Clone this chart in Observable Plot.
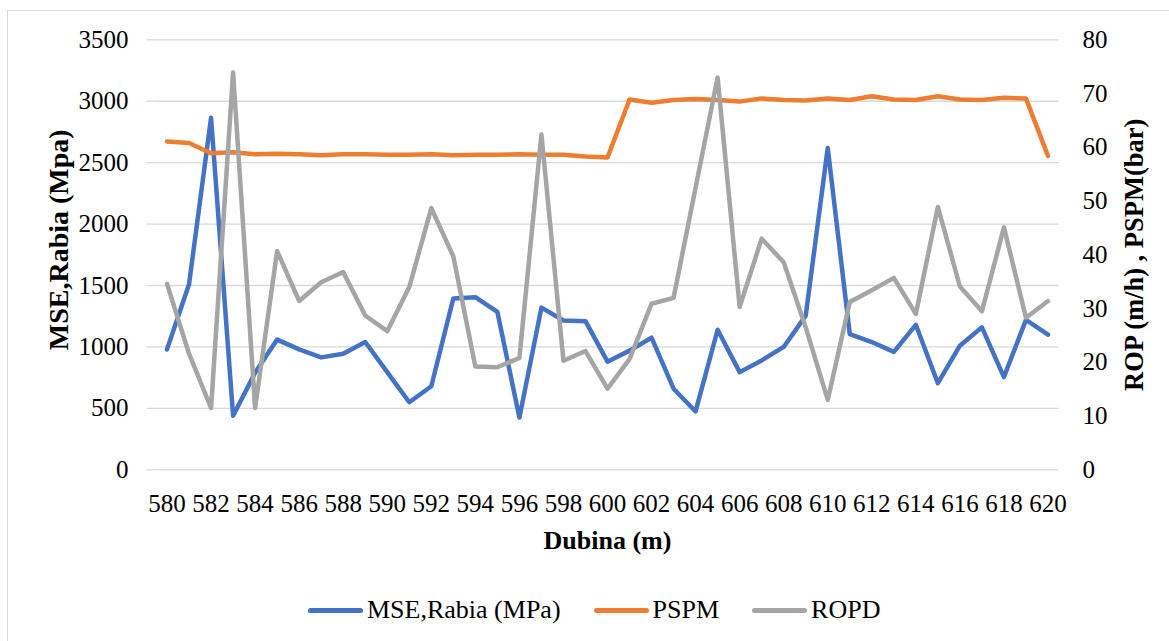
<!DOCTYPE html>
<html><head><meta charset="utf-8">
<script src="https://cdn.jsdelivr.net/npm/d3@7"></script>
<script src="https://cdn.jsdelivr.net/npm/@observablehq/plot@0.6"></script>
<style>
html,body{margin:0;padding:0;background:#fff;width:1169px;height:641px;overflow:hidden;position:relative;}
#frame{position:absolute;left:7px;top:10px;width:1180px;height:660px;border:1px solid #d9d9d9;box-sizing:border-box;}
#chart{position:absolute;left:0;top:0;}
#chart svg, #chart svg text{font-family:"Liberation Serif","Times New Roman",Times,"DejaVu Serif",serif !important;}
#legend{position:absolute;left:308px;top:592px;height:36px;display:flex;align-items:center;font-family:"Liberation Serif","Times New Roman",Times,"DejaVu Serif",serif;font-size:26px;color:#000;white-space:nowrap;}
.item{display:flex;align-items:center;margin-right:33px;}
.swatch{width:55px;height:5px;border-radius:3px;margin-right:4px;}
</style></head><body>
<div id="frame"></div><div id="chart"></div><div id="legend"></div>
<script>
const depth = [580,581,582,583,584,585,586,587,588,589,590,591,592,593,594,595,596,597,598,599,600,601,602,603,604,605,606,607,608,609,610,611,612,613,614,615,616,617,618,619,620];
const mse = [980,1510,2865,440,790,1060,980,915,945,1040,795,550,680,1395,1405,1285,425,1320,1215,1210,880,970,1075,660,475,1140,795,890,1000,1255,2620,1105,1040,960,1180,705,1010,1160,755,1220,1100];
const pspm = [61.1,60.8,58.9,59.1,58.7,58.8,58.7,58.5,58.7,58.7,58.6,58.6,58.7,58.5,58.6,58.6,58.7,58.6,58.6,58.3,58.1,68.9,68.3,68.8,69.0,68.8,68.5,69.1,68.8,68.7,69.1,68.8,69.5,68.9,68.8,69.5,68.9,68.8,69.2,69.1,58.4];
const ropd = [34.6,21.6,11.5,73.9,11.5,40.7,31.4,34.9,36.8,28.7,25.8,34.0,48.7,39.7,19.2,19.1,20.8,62.4,20.3,22.1,15.1,20.6,30.9,32.0,52.5,73.0,30.3,43.0,38.6,26.5,13.0,31.2,33.4,35.7,29.0,48.9,34.1,29.5,45.1,28.3,31.4];
const leftTicks = [0,500,1000,1500,2000,2500,3000,3500];
const rightTicks = [0,10,20,30,40,50,60,70,80];
const xTicks = [580,582,584,586,588,590,592,594,596,598,600,602,604,606,608,610,612,614,616,618,620];
const seriesNames = ["MSE,Rabia (MPa)","PSPM","ROPD"];
const colors = ["#4472C4","#ED7D31","#A5A5A5"];
const xTitle = "Dubina (m)";
const yLeftTitle = "MSE,Rabia (Mpa)";
const yRightTitle = "ROP (m/h) , PSPM(bar)";

const FONT = "'Liberation Serif','Times New Roman',Times,'DejaVu Serif',serif";
const k = 3500 / 80; // secondary axis mapped onto primary scale
const rows = depth.map((d, i) => ({depth: d, mse: mse[i], pspm: pspm[i], ropd: ropd[i]}));
const lineOpts = {strokeWidth: 4.5, strokeLinejoin: "round", strokeLinecap: "round"};

const chart = Plot.plot({
  width: 1169, height: 560,
  marginLeft: 155.5, marginRight: 110.5, marginTop: 39.3, marginBottom: 90.7,
  x: {domain: [579.5, 620.5]},
  y: {domain: [0, 3500]},
  style: {fontFamily: FONT, fontSize: "25px", color: "#000", background: "transparent", overflow: "visible"},
  marks: [
    Plot.gridY(leftTicks, {stroke: "#d9d9d9", strokeOpacity: 1, strokeWidth: 1.3}),
    Plot.axisY(leftTicks, {anchor: "left", tickSize: 9, tickPadding: 18.5, stroke: "#d9d9d9", strokeWidth: 1.3, fill: "#000", tickFormat: d => String(d), label: null, fontSize: 25, fontFamily: FONT, fontVariant: "normal"}),
    Plot.axisY(rightTicks.map(v => v * k), {anchor: "right", tickSize: 0, tickPadding: 23.5, fill: "#000", tickFormat: d => String(Math.round(d / k)), label: null, fontSize: 25, fontFamily: FONT, fontVariant: "normal", textAnchor: "start"}),
    Plot.axisX(xTicks, {tickSize: 0, tickPadding: 24, tickFormat: d => String(d), label: null, fontSize: 25, fontFamily: FONT, fontVariant: "normal"}),
    Plot.lineY(rows, {x: "depth", y: "mse", stroke: colors[0], ...lineOpts}),
    Plot.lineY(rows, {x: "depth", y: d => d.pspm * k, stroke: colors[1], ...lineOpts}),
    Plot.lineY(rows, {x: "depth", y: d => d.ropd * k, stroke: colors[2], ...lineOpts}),
    Plot.text([xTitle], {text: d => d, frameAnchor: "bottom", dy: 70.7, textAnchor: "middle", lineAnchor: "middle", fontWeight: "bold", fontSize: 26, fontFamily: FONT}),
    Plot.text([yLeftTitle], {text: d => d, frameAnchor: "left", dx: -97.2, dy: -15, rotate: -90, textAnchor: "middle", lineAnchor: "middle", fontWeight: "bold", fontSize: 28, fontFamily: FONT}),
    Plot.text([yRightTitle], {text: d => d, frameAnchor: "right", dx: 75.5, dy: 0, rotate: -90, textAnchor: "middle", lineAnchor: "middle", fontWeight: "bold", fontSize: 26.5, fontFamily: FONT})
  ]
});
document.getElementById("chart").appendChild(chart);

const legend = document.getElementById("legend");
seriesNames.forEach((name, i) => {
  const item = document.createElement("div");
  item.className = "item";
  const sw = document.createElement("div");
  sw.className = "swatch";
  sw.style.background = colors[i];
  const lab = document.createElement("span");
  lab.textContent = name;
  item.appendChild(sw);
  item.appendChild(lab);
  legend.appendChild(item);
});
</script>
</body></html>
